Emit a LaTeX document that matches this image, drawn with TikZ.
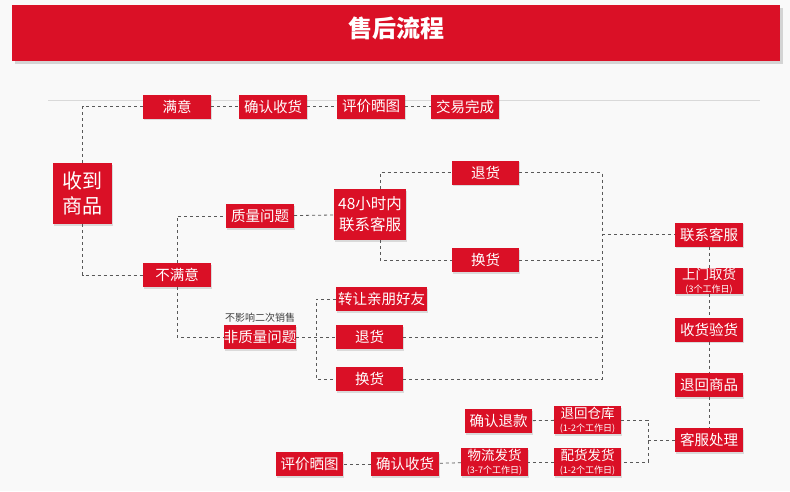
\documentclass[tikz,border=0pt]{standalone}
\usepackage{fontspec}
\setmainfont{Noto Sans CJK SC}
\usetikzlibrary{shadows}
\definecolor{rd}{HTML}{DA1026}
\begin{document}
\begin{tikzpicture}[x=1pt,y=-1pt,
  bx/.style={draw=none,fill=rd,text=white,minimum width=68pt,minimum height=24pt,inner sep=0pt,font=\fontsize{14.5}{16}\selectfont,drop shadow={opacity=0.25,shadow xshift=1pt,shadow yshift=-1.5pt},align=center},
  ln/.style={draw=gray!70!black,dashed,line width=0.8pt}]
\fill[gray!5] (0,0) rectangle (790,491);
\useasboundingbox (0,0) rectangle (790,491);
\node[fill=rd,minimum width=768pt,minimum height=56pt,drop shadow={opacity=0.3,shadow yshift=-3pt}] (banner) at (396,33) {};
\node[text=white,font=\fontsize{24}{26}\selectfont\bfseries] (title) at (396,28) {售后流程};
\draw[gray!30,line width=0.6pt] (48,100) -- (760,100);
% nodes
\node[bx,minimum width=59pt,minimum height=61pt,font=\fontsize{20}{25}\selectfont] (recv) at (82.5,193.5) {收到\\商品};
\node[bx] (sat) at (177,106.5) {满意};
\node[bx] (conf1) at (273,106.5) {确认收货};
\node[bx] (eval1) at (371,106.5) {评价晒图};
\node[bx] (done) at (465,106.5) {交易完成};
\node[bx] (unsat) at (177,275) {不满意};
\node[bx] (qual) at (260,216) {质量问题};
\node[bx] (nqual) at (260,337) {非质量问题};
\node[text=black!75,font=\fontsize{10}{11}\selectfont] (nqlab) at (260,318) {不影响二次销售};
\node[bx,minimum width=72pt,minimum height=51pt,font=\fontsize{15.5}{21}\selectfont] (h48) at (370,214.5) {48小时内\\联系客服};
\node[bx,minimum width=67pt] (ret1) at (485.5,172.5) {退货};
\node[bx,minimum width=67pt] (exc1) at (485.5,260) {换货};
\node[bx,minimum width=91pt] (give) at (381.5,299) {转让亲朋好友};
\node[bx,minimum width=67pt] (ret2) at (369.5,337) {退货};
\node[bx,minimum width=67pt] (exc2) at (369.5,379) {换货};
\node[bx] (cs) at (709,234.5) {联系客服};
\node[bx,minimum height=26pt] (pick) at (709,281) {\fontsize{13.5}{11}\selectfont 上门取货\\[-3pt]\fontsize{9}{8}\selectfont (3个工作日)};
\node[bx] (insp) at (709,329.5) {收货验货};
\node[bx] (back) at (709,385) {退回商品};
\node[bx] (proc) at (709,440) {客服处理};
\node[bx,minimum width=67pt] (refund) at (498.5,421) {确认退款};
\node[bx,minimum width=67pt,minimum height=28pt] (wh) at (587.5,420) {\fontsize{13.5}{11}\selectfont 退回仓库\\[-3pt]\fontsize{9}{8}\selectfont (1-2个工作日)};
\node[bx,minimum width=67pt,minimum height=28pt] (ship) at (587.5,462) {\fontsize{13.5}{11}\selectfont 配货发货\\[-3pt]\fontsize{9}{8}\selectfont (1-2个工作日)};
\node[bx,minimum width=67pt,minimum height=28pt] (logi) at (494.5,462) {\fontsize{13.5}{11}\selectfont 物流发货\\[-3pt]\fontsize{9}{8}\selectfont (3-7个工作日)};
\node[bx] (conf2) at (405,464) {确认收货};
\node[bx,minimum width=67pt] (eval2) at (309.5,464) {评价晒图};
% connectors
\draw[ln] (recv.north) |- (sat.west);
\draw[ln] (recv.south) |- (unsat.west);
\draw[ln] (sat) -- (conf1);
\draw[ln] (conf1) -- (eval1);
\draw[ln] (eval1) -- (done);
\draw[ln] (unsat.north) |- (qual.west);
\draw[ln] (unsat.south) |- (nqual.west);
\draw[ln] (qual) -- (h48);
\draw[ln] (h48.north -| 380,0) |- (ret1.west);
\draw[ln] (h48.south -| 380,0) |- (exc1.west);
\coordinate (jr) at (602,234.5);
\draw[ln] (ret1.east) -| (jr);
\draw[ln] (exc2.east) -| (jr);
\draw[ln] (exc1.east) -- (exc1.east -| jr);
\draw[ln] (ret2.east) -- (ret2.east -| jr);
\draw[ln] (jr) -- (cs.west);
\coordinate (jn) at (316,337);
\draw[ln] (nqual.east) -- (ret2.west);
\draw[ln] (give.west) -| (jn) |- (exc2.west);
\draw[ln] (cs) -- (pick);
\draw[ln] (pick) -- (insp);
\draw[ln] (insp) -- (back);
\draw[ln] (back) -- (proc);
\coordinate (jp) at (648,440);
\draw[ln] (proc.west) -- (jp);
\draw[ln] (wh.east) -| (jp) |- (ship.east);
\draw[ln] (wh) -- (refund);
\draw[ln] (ship) -- (logi);
\draw[ln] (logi) -- (conf2);
\draw[ln] (conf2) -- (eval2);
\end{tikzpicture}
\end{document}
